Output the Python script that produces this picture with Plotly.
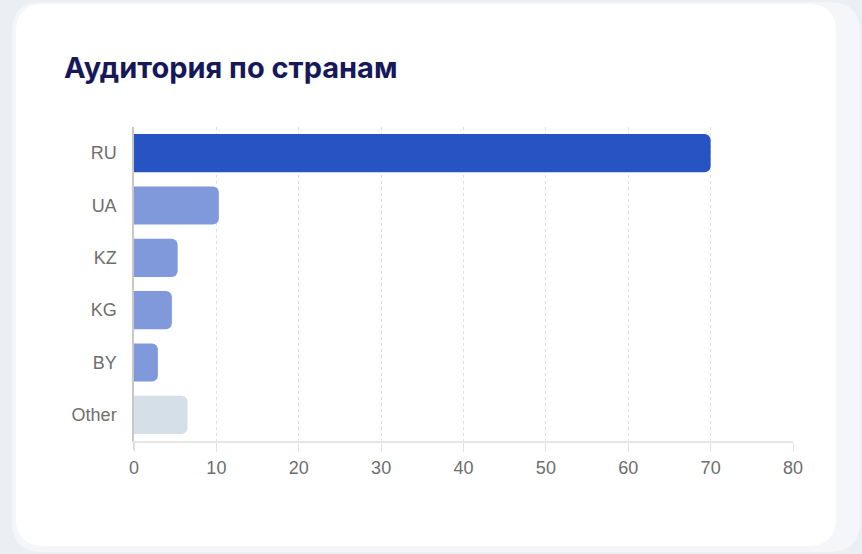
import plotly.graph_objects as go

countries = ["RU", "UA", "KZ", "KG", "BY", "Other"]
shares = [70.0, 10.3, 5.3, 4.6, 2.9, 6.5]
bar_colors = ["#2853C3", "#7F99DB", "#7F99DB", "#7F99DB", "#7F99DB", "#D5DFE8"]
x_ticks = [0, 10, 20, 30, 40, 50, 60, 70, 80]
title_text = "Аудитория по странам"

W, H = 862, 554
L, R, T, B = 134, 69, 127, 113
PW, PH = W - L - R, H - T - B


def px(x):
    return (x - L) / PW


def py(y):
    return (H - B - y) / PH


def rounded_rect(x0, y0, x1, y1, r):
    pts = [
        f"M {px(x0 + r)} {py(y0)}",
        f"L {px(x1 - r)} {py(y0)}",
        f"Q {px(x1)} {py(y0)} {px(x1)} {py(y0 + r)}",
        f"L {px(x1)} {py(y1 - r)}",
        f"Q {px(x1)} {py(y1)} {px(x1 - r)} {py(y1)}",
        f"L {px(x0 + r)} {py(y1)}",
        f"Q {px(x0)} {py(y1)} {px(x0)} {py(y1 - r)}",
        f"L {px(x0)} {py(y0 + r)}",
        f"Q {px(x0)} {py(y0)} {px(x0 + r)} {py(y0)}",
        "Z",
    ]
    return " ".join(pts)


fig = go.Figure()
fig.add_trace(go.Bar(
    x=shares,
    y=countries,
    orientation="h",
    marker=dict(color=bar_colors, line=dict(width=0)),
    hoverinfo="x+y",
))

fig.update_layout(
    width=W,
    height=H,
    margin=dict(l=L, r=R, t=T, b=B, pad=0),
    paper_bgcolor="#EBEEF3",
    plot_bgcolor="rgba(0,0,0,0)",
    showlegend=False,
    bargap=0.27,
    barcornerradius=6,
    font=dict(family="Liberation Sans, Arial, sans-serif", color="#6E6E6E", size=18),
    xaxis=dict(
        range=[0, 80],
        tickvals=x_ticks,
        ticktext=[str(v) for v in x_ticks],
        showgrid=True,
        gridcolor="#E0E0E0",
        griddash="dot",
        gridwidth=1,
        showline=True,
        linecolor="#E6E6E6",
        linewidth=2,
        ticks="outside",
        ticklen=9,
        tickcolor="#E2E2E2",
        tickfont=dict(size=18, color="#6E6E6E"),
        zeroline=False,
        fixedrange=True,
    ),
    yaxis=dict(
        categoryorder="array",
        categoryarray=countries[::-1],
        showgrid=False,
        showline=True,
        linecolor="#C8C8C8",
        linewidth=1.5,
        ticks="",
        ticklabelstandoff=12,
        tickfont=dict(size=18, color="#6E6E6E"),
        zeroline=False,
        fixedrange=True,
    ),
    shapes=[
        dict(type="path", xref="paper", yref="paper", layer="below",
             path=rounded_rect(12, 2, 860, 552, 30),
             fillcolor="#F5F6F9", line=dict(width=0)),
        dict(type="path", xref="paper", yref="paper", layer="below",
             path=rounded_rect(16, 4, 836, 546, 28),
             fillcolor="#FFFFFF", line=dict(width=0)),
        dict(type="line", xref="paper", yref="paper", layer="below",
             x0=0, x1=0, y0=py(441), y1=py(450),
             line=dict(color="#C8C8C8", width=1.5)),
    ],
    annotations=[
        dict(text=f"<b>{title_text}</b>", xref="paper", yref="paper",
             x=px(62), y=py(68), xanchor="left", yanchor="middle",
             showarrow=False,
             font=dict(family="Inter, Noto Sans, sans-serif", size=29, color="#16185A")),
    ],
)

fig.write_html(
    "out.html",
    config={"displayModeBar": False},
    post_script="document.body.style.margin='0';document.body.style.overflow='hidden';document.body.style.background='#EBEEF3';",
)
